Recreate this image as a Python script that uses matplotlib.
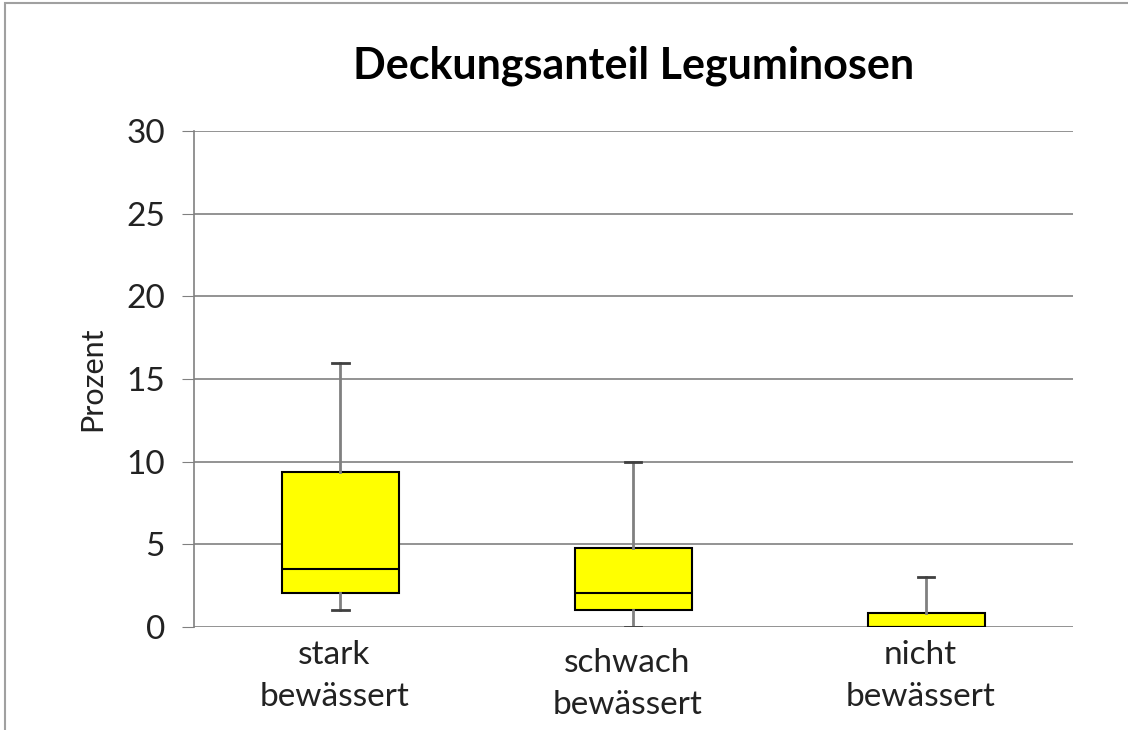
import matplotlib
matplotlib.use("Agg")
import matplotlib.pyplot as plt
import matplotlib.transforms as mtransforms
from matplotlib.patches import Rectangle

plt.rcParams['font.family'] = ['Lato', 'DejaVu Sans']

categories = ["stark\nbewässert", "schwach\nbewässert", "nicht\nbewässert"]
whis_low = [1.0, 0.0, 0.0]
q1 = [2.05, 1.05, 0.0]
median = [3.5, 2.05, 0.0]
q3 = [9.35, 4.8, 0.85]
whis_high = [15.95, 10.0, 3.05]
label_drop = [0, 8, 0]  # px, the middle label sits a bit lower

fig = plt.figure(figsize=(11.28, 7.3), dpi=100)
ax = fig.add_axes([0.172, 0.1411, 0.779, 0.6794])

stats = []
for i in range(3):
    stats.append(dict(med=median[i], q1=q1[i], q3=q3[i],
                      whislo=whis_low[i], whishi=whis_high[i], fliers=[]))

ax.bxp(stats, positions=[1, 2, 3], widths=0.4, patch_artist=True,
       boxprops=dict(facecolor='#ffff00', edgecolor='black', linewidth=1.5),
       medianprops=dict(color='black', linewidth=1.5),
       whiskerprops=dict(color='#808080', linewidth=2),
       capprops=dict(color='#404040', linewidth=2),
       capwidths=0.055, showfliers=False, zorder=3)

ax.set_xlim(0.5, 3.5)
ax.set_ylim(0, 30)
ax.set_yticks(range(0, 31, 5))
ax.tick_params(axis='y', labelsize=24, direction='out', length=9, color='#808080', pad=12,
               labelcolor='#222222')
ax.tick_params(axis='x', length=0)
ax.set_xticks([])
ax.grid(axis='y', color='#808080', linewidth=1.2, zorder=0)
ax.set_axisbelow(True)
for s in ['top', 'right', 'bottom']:
    ax.spines[s].set_visible(False)
ax.spines['left'].set_color('#808080')
ax.spines['left'].set_linewidth(1.2)

ax.set_ylabel("Prozent", fontsize=22, labelpad=14, color='#222222')
ax.set_title("Deckungsanteil Leguminosen", fontsize=31, fontweight='bold', pad=38)

trans = mtransforms.blended_transform_factory(ax.transData, ax.transAxes)
for i, lab in enumerate(categories):
    off = mtransforms.offset_copy(trans, fig=fig, x=-6, y=-(13 + label_drop[i]), units='dots')
    ax.text(i + 1, 0, lab, transform=off, ha='center', va='top',
            fontsize=24, linespacing=1.5, color='#222222')

fig.add_artist(Rectangle((0.0045, -0.01), 1.1, 1.0058, transform=fig.transFigure,
                         fill=False, edgecolor='#a0a0a0', linewidth=1.5))

fig.savefig("out.png", dpi=100)
